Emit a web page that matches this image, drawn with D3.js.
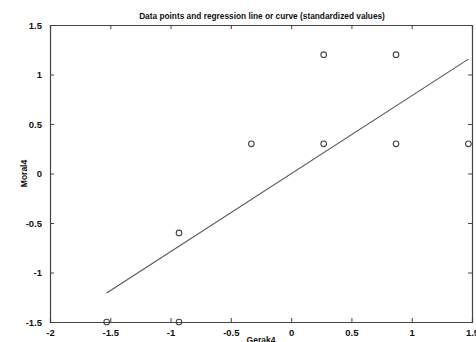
<!DOCTYPE html>
<html>
<head>
<meta charset="utf-8">
<script src="https://cdn.jsdelivr.net/npm/d3@7"></script>
<style>
  body { margin: 0; background: #fff; }
  text { font-family: "Liberation Sans", Arial, sans-serif; font-weight: bold; fill: #111; }
</style>
</head>
<body>
<div id="chart"></div>
<script>
// standardized values
var gerak4 = [-1.53, -0.93, -0.93, -0.33, 0.27, 0.27, 0.87, 0.87, 1.47];
var moral4 = [-1.5, -1.5, -0.6, 0.3, 0.3, 1.2, 1.2, 0.3, 0.3];
var xTicks = [-2, -1.5, -1, -0.5, 0, 0.5, 1, 1.5];
var yTicks = [-1.5, -1, -0.5, 0, 0.5, 1, 1.5];

var width = 476, height = 342;
var margin = { top: 25, right: 4, bottom: 20, left: 50 };

var svg = d3.select("#chart").append("svg")
  .attr("width", width)
  .attr("height", height);

var x = d3.scaleLinear().domain([-2, 1.5]).range([margin.left, width - margin.right]);
var y = d3.scaleLinear().domain([-1.5, 1.5]).range([height - margin.bottom, margin.top]);

// plain hyphen minus like the original
var fmt = function(d) { return String(d); };

// axes - ticks point inwards like matlab
var axisStroke = "#444";
function styleAxis(g) {
  g.select(".domain").attr("stroke", axisStroke).attr("stroke-width", 1.2);
  g.selectAll(".tick line").attr("stroke", axisStroke);
  g.selectAll(".tick text").style("font-size", "9.5px").style("font-family", "Liberation Sans, Arial, sans-serif").style("font-weight", "bold").attr("fill", "#111");
}

svg.append("g")
  .attr("transform", "translate(0," + y(-1.5) + ")")
  .call(d3.axisBottom(x).tickValues(xTicks).tickSize(-4).tickPadding(7).tickFormat(fmt))
  .call(styleAxis);

svg.append("g")
  .attr("transform", "translate(0," + y(1.5) + ")")
  .call(d3.axisTop(x).tickValues(xTicks).tickSize(-4).tickFormat(""))
  .call(styleAxis);

svg.append("g")
  .attr("transform", "translate(" + x(-2) + ",0)")
  .call(d3.axisLeft(y).tickValues(yTicks).tickSize(-4).tickPadding(8).tickFormat(fmt))
  .call(styleAxis);

svg.append("g")
  .attr("transform", "translate(" + x(1.5) + ",0)")
  .call(d3.axisRight(y).tickValues(yTicks).tickSize(-4).tickFormat(""))
  .call(styleAxis);

// regression line through standardized data (least squares)
var mx = d3.mean(gerak4), my = d3.mean(moral4);
var sxy = d3.sum(gerak4, function(d, i) { return (d - mx) * (moral4[i] - my); });
var sxx = d3.sum(gerak4, function(d) { return (d - mx) * (d - mx); });
var slope = sxy / sxx, icpt = my - slope * mx;
var ext = d3.extent(gerak4);

svg.append("line")
  .attr("x1", x(ext[0])).attr("y1", y(icpt + slope * ext[0]))
  .attr("x2", x(ext[1])).attr("y2", y(icpt + slope * ext[1]))
  .attr("stroke", "#555")
  .attr("stroke-width", 1.1);

// data points
svg.selectAll("circle.pt")
  .data(gerak4)
  .enter().append("circle")
  .attr("class", "pt")
  .attr("cx", function(d) { return x(d); })
  .attr("cy", function(d, i) { return y(moral4[i]); })
  .attr("r", 2.8)
  .attr("fill", "none")
  .attr("stroke", "#444")
  .attr("stroke-width", 1.1);

// title and labels
svg.append("text")
  .attr("x", 262).attr("y", 19)
  .attr("text-anchor", "middle")
  .style("font-size", "8.3px")
  .text("Data points and regression line or curve (standardized values)");

svg.append("text")
  .attr("x", (x(-2) + x(1.5)) / 2).attr("y", 343)
  .attr("text-anchor", "middle")
  .style("font-size", "8.5px")
  .text("Gerak4");

svg.append("text")
  .attr("transform", "translate(27," + y(0) + ") rotate(-90)")
  .attr("text-anchor", "middle")
  .style("font-size", "8.5px")
  .text("Moral4");
</script>
</body>
</html>
